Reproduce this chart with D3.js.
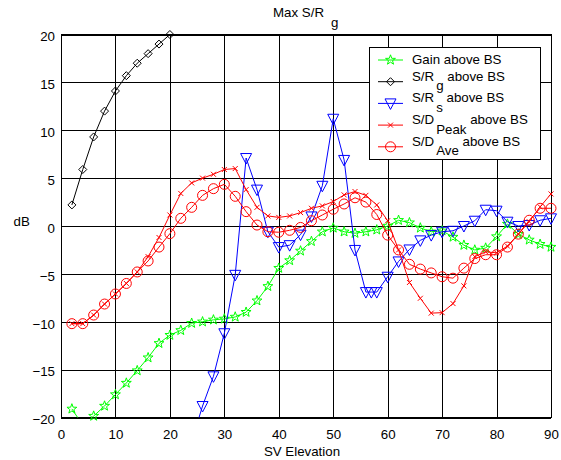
<!DOCTYPE html>
<html>
<head>
<meta charset="utf-8">
<script src="https://cdn.jsdelivr.net/npm/d3@7/dist/d3.min.js"></script>
<style>
  body { margin: 0; background: #fff; }
  text { font-family: "Liberation Sans", Arial, sans-serif; font-size: 13.3px; fill: #000; }
</style>
</head>
<body>
<div id="chart"></div>
<script>
// Data
//=================================
var elevation = [2, 4, 6, 8, 10, 12, 14, 16, 18, 20, 22, 24, 26, 28, 30, 32, 34, 36, 38, 40, 42, 44, 46,
  48, 50, 52, 54, 56, 58, 60, 62, 64, 66, 68, 70, 72, 74, 76, 78, 80, 82, 84, 86, 88, 90];

var gainBS = [-19.1, -20.8, -19.85, -18.8, -17.6, -16.4, -15.1, -13.75, -12.25, -11.4, -10.9, -10.15, -10.0,
  -9.8, -9.7, -9.5, -9.0, -7.8, -6.3, -4.4, -3.6, -2.6, -1.6, -0.6, -0.2, -0.6, -0.75, -0.6, -0.4, 0.0,
  0.6, 0.35, -0.2, -0.6, -0.5, -1.15, -2.0, -2.5, -2.3, -1.1, 0.2, -0.85, -1.45, -1.9, -2.2];

var elevationRg = [2, 4, 6, 8, 10, 12, 14, 16, 18, 20];
var srgBS = [2.2, 5.9, 9.3, 12.0, 14.1, 15.7, 17.0, 18.0, 19.0, 20.0];

var elevationRs = [24, 26, 28, 30, 32, 34, 36, 38, 40, 42, 44, 46, 48, 50, 52, 54, 56, 57, 58, 60, 62, 64,
  66, 68, 70, 72, 74, 76, 78, 80, 82, 84, 86, 88, 90];
var srsBS = [-22.5, -18.8, -15.7, -11.2, -5.1, 7.1, 3.8, -0.6, -2.2, -2.0, -0.9, 1.0, 4.2, 11.2, 6.9, -2.5,
  -6.9, -6.9, -6.9, -5.3, -3.7, -2.45, -1.5, -0.95, -0.6, -0.5, 0.0, 0.55, 1.7, 1.6, 0.45, 0.0, 0.1, 0.6, 0.8];

var sdPeakBS = [-10.2, -10.2, -9.3, -8.15, -7.1, -6.0, -4.8, -3.2, -1.2, 1.15, 3.4, 4.5, 5.0, 5.4, 5.9, 6.0,
  3.8, 1.95, 1.05, 0.9, 1.05, 1.4, 1.85, 2.1, 2.55, 3.25, 3.6, 3.2, 2.2, 0.55, -2.5, -5.9, -7.55, -9.1,
  -9.05, -8.1, -6.25, -3.2, -2.7, -2.8, -2.1, -0.85, 0.45, 2.0, 3.35];

var sdAveBS = [-10.2, -10.2, -9.3, -8.15, -7.1, -6.0, -4.8, -3.65, -2.2, -0.8, 0.8, 1.95, 3.2, 3.9, 4.35, 3.1,
  1.5, 0.1, -0.6, -0.65, -0.45, -0.15, 0.55, 1.15, 1.75, 2.3, 2.95, 2.5, 1.2, -0.95, -2.5, -4.0, -4.5, -4.9,
  -5.3, -5.45, -4.4, -3.4, -3.0, -3.0, -2.2, -0.85, 0.6, 1.85, 1.85];

var xTicks = [0, 10, 20, 30, 40, 50, 60, 70, 80, 90];
var yTicks = [-20, -15, -10, -5, 0, 5, 10, 15, 20];

// series: label pieces for the legend (main, subscript, rest)
var series = [
  { x: elevation, y: gainBS, color: "#00ff00", marker: "star", main: "Gain above BS", sub: "", rest: "" },
  { x: elevationRg, y: srgBS, color: "#000000", marker: "diamond", main: "S/R", sub: "g", rest: " above BS" },
  { x: elevationRs, y: srsBS, color: "#0000ff", marker: "triangle", main: "S/R", sub: "s", rest: " above BS" },
  { x: elevation, y: sdPeakBS, color: "#ff0000", marker: "cross", main: "S/D", sub: "Peak", rest: " above BS" },
  { x: elevation, y: sdAveBS, color: "#ff0000", marker: "circle", main: "S/D", sub: "Ave", rest: " above BS" }
];

// Set up our chart
//=================================
var svgWidth = 561;
var svgHeight = 460;

var margin = {
  top: 34.5,
  right: 10,
  bottom: 42.5,
  left: 61
};

var width = svgWidth - margin.left - margin.right;
var height = svgHeight - margin.top - margin.bottom;

var svg = d3.select("#chart")
  .append("svg")
  .attr("width", svgWidth)
  .attr("height", svgHeight);

var chartGroup = svg.append("g")
  .attr("transform", `translate(${margin.left}, ${margin.top})`);

var xLinearScale = d3.scaleLinear().domain([0, 90]).range([0, width]);
var yLinearScale = d3.scaleLinear().domain([-20, 20]).range([height, 0]);

// clip for the lines
svg.append("defs").append("clipPath")
  .attr("id", "plotClip")
  .append("rect")
  .attr("width", width)
  .attr("height", height);

// gridlines
chartGroup.append("g")
  .attr("transform", `translate(0, ${height})`)
  .call(d3.axisBottom(xLinearScale).tickValues(xTicks).tickSize(-height).tickFormat(""))
  .call(g => g.select(".domain").remove())
  .selectAll("line")
  .attr("stroke", "#000")
  .attr("shape-rendering", "crispEdges");

chartGroup.append("g")
  .call(d3.axisLeft(yLinearScale).tickValues(yTicks).tickSize(-width).tickFormat(""))
  .call(g => g.select(".domain").remove())
  .selectAll("line")
  .attr("stroke", "#000")
  .attr("shape-rendering", "crispEdges");

// axes labels (tick numbers)
var bottomAxis = d3.axisBottom(xLinearScale).tickValues(xTicks).tickSize(0).tickPadding(12);
var leftAxis = d3.axisLeft(yLinearScale).tickValues(yTicks).tickSize(0).tickPadding(6);

chartGroup.append("g")
  .attr("transform", `translate(0, ${height})`)
  .call(bottomAxis)
  .call(g => g.select(".domain").remove())
  .selectAll("text")
  .attr("font-size", null)
  .attr("font-family", null);

chartGroup.append("g")
  .call(leftAxis)
  .call(g => g.select(".domain").remove())
  .selectAll("text")
  .attr("dy", "0.47em")
  .attr("font-size", null)
  .attr("font-family", null);

// axes box
chartGroup.append("rect")
  .attr("width", width)
  .attr("height", height)
  .attr("fill", "none")
  .attr("stroke", "#000")
  .attr("stroke-width", 1)
  .attr("shape-rendering", "crispEdges");

// marker shapes
function markerPath(type) {
  if (type === "diamond") return "M0,-4L4,0L0,4L-4,0Z";
  if (type === "triangle") return "M-5.5,-4.5L5.5,-4.5L0,6Z";
  if (type === "cross") return "M-2.5,-2.5L2.5,2.5M-2.5,2.5L2.5,-2.5";
  if (type === "circle") return "M5,0A5,5 0 1,1 -5,0A5,5 0 1,1 5,0Z";
  // pentagram
  var pts = [];
  for (var i = 0; i < 10; i++) {
    var r = i % 2 === 0 ? 5.2 : 2.1;
    var a = -Math.PI / 2 + i * Math.PI / 5;
    pts.push([r * Math.cos(a), r * Math.sin(a)]);
  }
  return "M" + pts.map(p => p[0].toFixed(2) + "," + p[1].toFixed(2)).join("L") + "Z";
}

var lineGen = d3.line()
  .x(d => xLinearScale(d[0]))
  .y(d => yLinearScale(d[1]));

// draw each series
series.forEach(function(s) {
  var pts = s.x.map((v, i) => [v, s.y[i]]);
  var g = chartGroup.append("g");

  g.append("path")
    .datum(pts)
    .attr("clip-path", "url(#plotClip)")
    .attr("d", lineGen)
    .attr("fill", "none")
    .attr("stroke", s.color)
    .attr("stroke-width", 1);

  g.selectAll(".mk")
    .data(pts.filter(d => d[1] >= -20 && d[1] <= 20))
    .enter()
    .append("path")
    .attr("transform", d => `translate(${xLinearScale(d[0])}, ${yLinearScale(d[1])})`)
    .attr("d", markerPath(s.marker))
    .attr("fill", "none")
    .attr("stroke", s.color)
    .attr("stroke-width", 1);
});

// title
svg.append("text")
  .attr("x", 273)
  .attr("y", 16.7)
  .text("Max S/R")
  .append("tspan")
  .attr("dx", 7)
  .attr("dy", 10)
  .text("g");

// axis titles
svg.append("text")
  .attr("x", margin.left + width / 2 - 4)
  .attr("y", 456)
  .attr("text-anchor", "middle")
  .text("SV Elevation");

svg.append("text")
  .attr("x", 13.5)
  .attr("y", 226)
  .text("dB");

// legend
var legendX = 369, legendY = 47.3;
var legend = svg.append("g");
legend.append("rect")
  .attr("x", legendX)
  .attr("y", legendY)
  .attr("width", 171)
  .attr("height", 111.7)
  .attr("fill", "#fff")
  .attr("stroke", "#000")
  .attr("stroke-width", 1)
  .attr("shape-rendering", "crispEdges");

series.forEach(function(s, i) {
  var rowY = legendY + 12.7 + i * 21.7;
  legend.append("line")
    .attr("x1", legendX + 9)
    .attr("x2", legendX + 34)
    .attr("y1", rowY)
    .attr("y2", rowY)
    .attr("stroke", s.color)
    .attr("stroke-width", 1);
  legend.append("path")
    .attr("transform", `translate(${legendX + 21.5}, ${rowY})`)
    .attr("d", markerPath(s.marker))
    .attr("fill", "none")
    .attr("stroke", s.color);

  var t = legend.append("text")
    .attr("x", legendX + 43)
    .attr("y", s.sub ? rowY - 1 : rowY + 4)
    .text(s.main);
  if (s.sub) {
    t.append("tspan").attr("dx", 2).attr("dy", 9.5).text(s.sub);
    t.append("tspan").attr("dy", -9.5).text(s.rest);
  }
});
</script>
</body>
</html>
